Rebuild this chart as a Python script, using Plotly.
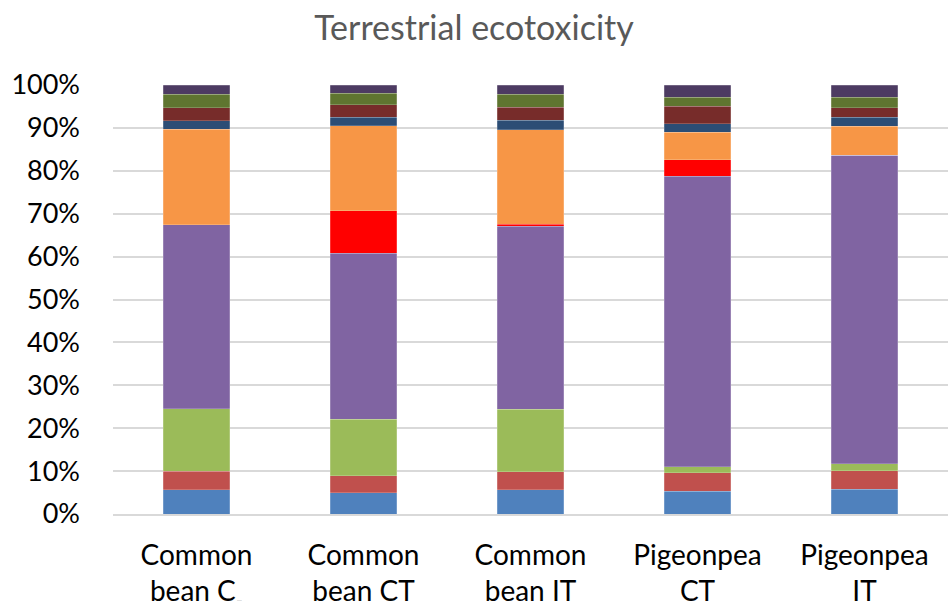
import plotly.graph_objects as go

categories = ["Common<br>bean C<sub>-</sub>", "Common<br>bean CT", "Common<br>bean IT", "Pigeonpea<br>CT", "Pigeonpea<br>IT"]

s1 = [5.7, 5.0, 5.6, 5.3, 5.8]
s2 = [4.3, 3.9, 4.3, 4.3, 4.3]
s3 = [14.5, 13.2, 14.5, 1.4, 1.6]
s4 = [42.9, 38.7, 42.7, 67.7, 71.9]
s5 = [0.0, 9.9, 0.5, 3.9, 0.0]
s6 = [22.3, 19.8, 22.0, 6.4, 6.8]
s7 = [2.0, 2.0, 2.2, 2.0, 2.1]
s8 = [3.0, 2.9, 3.0, 4.1, 2.2]
s9 = [3.1, 2.7, 3.1, 2.0, 2.4]
s10 = [2.2, 1.9, 2.1, 2.9, 2.9]

series = [s1, s2, s3, s4, s5, s6, s7, s8, s9, s10]
colors = ["#4F81BD", "#C0504D", "#9BBB59", "#8064A2", "#FF0000",
          "#F79646", "#2C4D75", "#772C2A", "#5F7530", "#4D3B62"]

fig = go.Figure()
for i, (vals, c) in enumerate(zip(series, colors)):
    fig.add_trace(go.Bar(x=categories, y=vals, marker=dict(color=c, line=dict(width=0.5, color="rgba(255,255,255,0.4)")),
                         width=0.4, name=f"S{i+1}", showlegend=False))

fig.update_layout(
    barmode="stack",
    width=948, height=601,
    margin=dict(l=113, r=0, t=85, b=87, autoexpand=False),
    paper_bgcolor="white", plot_bgcolor="white",
    font=dict(family="Lato, Open Sans, sans-serif", size=27, color="#000000"),
    title=dict(text="Terrestrial ecotoxicity", x=0.5, xanchor="center", y=0.953, yanchor="middle",
               font=dict(size=34, color="#595959")),
    xaxis=dict(showgrid=False, showline=True, linecolor="#D9D9D9", linewidth=2, automargin=False,
               ticks="", ticklabelstandoff=15, tickfont=dict(size=28)),
    yaxis=dict(range=[0, 100], dtick=10, ticksuffix="%", showgrid=True, gridcolor="#D9D9D9", gridwidth=2,
               automargin=False, zeroline=False, showline=False, ticks="", ticklabelstandoff=32,
               tickfont=dict(size=27)),
)

fig.write_html("out.html", config={"displayModeBar": False},
               post_script="document.body.style.margin='0';document.body.style.overflow='hidden';")
